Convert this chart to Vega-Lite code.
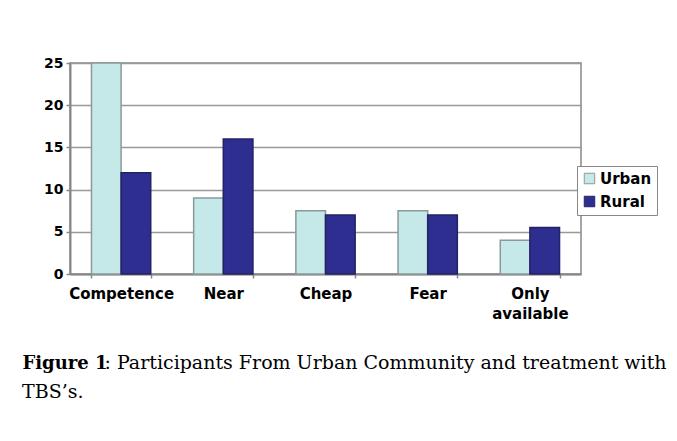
{
  "$schema": "https://vega.github.io/schema/vega-lite/v6.json",
  "autosize": {"type": "none"},
  "width": 511,
  "height": 211,
  "padding": {"left": 70, "top": 63, "right": 96, "bottom": 167},
  "background": "white",
  "title": {
    "text": "TBS’s.",
    "orient": "bottom",
    "anchor": "start",
    "frame": "group",
    "dx": -48,
    "dy": 11,
    "font": "DejaVu Serif",
    "fontSize": 19,
    "fontWeight": "normal",
    "color": "black",
    "offset": 0
  },
  "data": {
    "values": [
      {"category": "Competence", "group": "Urban", "value": 25},
      {"category": "Competence", "group": "Rural", "value": 12},
      {"category": "Near", "group": "Urban", "value": 9},
      {"category": "Near", "group": "Rural", "value": 16},
      {"category": "Cheap", "group": "Urban", "value": 7.5},
      {"category": "Cheap", "group": "Rural", "value": 7},
      {"category": "Fear", "group": "Urban", "value": 7.5},
      {"category": "Fear", "group": "Rural", "value": 7},
      {"category": "Only available", "group": "Urban", "value": 4},
      {"category": "Only available", "group": "Rural", "value": 5.5}
    ]
  },
  "mark": {"type": "bar", "strokeWidth": 1.5},
  "encoding": {
    "x": {
      "field": "category",
      "type": "nominal",
      "sort": ["Competence", "Near", "Cheap", "Fear", "Only available"],
      "scale": {"paddingInner": 0.42, "paddingOuter": 0.21},
      "axis": {
        "labelAngle": 0,
        "labelFont": "DejaVu Sans",
        "labelFontWeight": "bold",
        "labelFontSize": 15,
        "labelColor": "black",
        "labelPadding": 8,
        "labelLineHeight": 20,
        "labelExpr": "datum.label == 'Only available' ? ['Only', 'available'] : datum.label",
        "domainColor": "#888888",
        "domainWidth": 2,
        "tickBand": "extent",
        "tickSize": 4,
        "tickColor": "#888888",
        "tickWidth": 1.5,
        "title": "Figure 1",
        "titleFont": "DejaVu Serif",
        "titleFontWeight": "bold",
        "titleFontSize": 18,
        "titleColor": "black",
        "titleX": -48,
        "titleY": 94,
        "titleAlign": "left",
        "titleAnchor": "start",
        "titleBaseline": "alphabetic"
      }
    },
    "xOffset": {
      "field": "group",
      "type": "nominal",
      "sort": ["Urban", "Rural"],
      "scale": {"paddingInner": 0, "paddingOuter": 0}
    },
    "y": {
      "field": "value",
      "type": "quantitative",
      "scale": {"domain": [0, 25], "nice": false},
      "axis": {
        "values": [0, 5, 10, 15, 20, 25],
        "grid": true,
        "gridColor": "#999999",
        "gridWidth": 1.5,
        "domainColor": "#888888",
        "domainWidth": 2,
        "tickSize": 4,
        "tickColor": "#888888",
        "tickWidth": 1.5,
        "labelPadding": 3,
        "labelFont": "DejaVu Sans",
        "labelFontWeight": "bold",
        "labelFontSize": 14,
        "labelColor": "black",
        "title": ": Participants From Urban Community and treatment with",
        "titleFont": "DejaVu Serif",
        "titleFontWeight": "normal",
        "titleFontSize": 19,
        "titleColor": "black",
        "titleAngle": 0,
        "titleX": 34,
        "titleY": 305,
        "titleAlign": "left",
        "titleAnchor": "start",
        "titleBaseline": "alphabetic"
      }
    },
    "color": {
      "field": "group",
      "type": "nominal",
      "sort": ["Urban", "Rural"],
      "scale": {"domain": ["Urban", "Rural"], "range": ["#c5e8e8", "#2e2e90"]},
      "legend": {
        "orient": "none",
        "legendX": 507,
        "legendY": 103,
        "title": null,
        "padding": 5,
        "strokeColor": "#888888",
        "fillColor": "white",
        "symbolType": "square",
        "symbolSize": 110,
        "symbolStrokeColor": "#888888",
        "symbolStrokeWidth": 1,
        "labelFont": "DejaVu Sans",
        "labelFontWeight": "bold",
        "labelFontSize": 15,
        "labelColor": "black",
        "labelOffset": 3,
        "rowPadding": 7
      }
    },
    "stroke": {
      "field": "group",
      "type": "nominal",
      "scale": {"domain": ["Urban", "Rural"], "range": ["#8a9a9a", "#222266"]},
      "legend": null
    }
  },
  "config": {
    "view": {"stroke": "#888888", "strokeWidth": 1.5}
  }
}
